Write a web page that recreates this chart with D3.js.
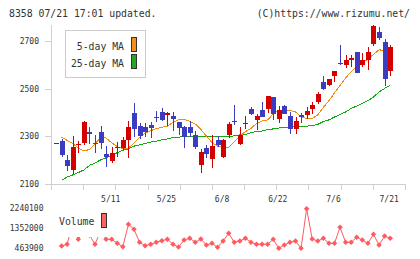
<!DOCTYPE html>
<html><head><meta charset="utf-8">
<script src="https://cdn.jsdelivr.net/npm/d3@7"></script>
<style>body{margin:0;background:#fff}svg{display:block}text{font-family:"DejaVu Sans Mono",monospace;fill:#333}</style>
</head><body><svg id="c" width="420" height="259"></svg>
<script>
const dates = ["4/21","4/22","4/23","4/24","4/27","4/28","4/30",
"5/1","5/7","5/8","5/11","5/12","5/13","5/14","5/15","5/18","5/19","5/20","5/21","5/22","5/25","5/26","5/27","5/28","5/29",
"6/1","6/2","6/3","6/4","6/5","6/8","6/9","6/10","6/11","6/12","6/15","6/16","6/17","6/18","6/19","6/22","6/23","6/24","6/25","6/26","6/29","6/30",
"7/1","7/2","7/3","7/6","7/7","7/8","7/9","7/10","7/13","7/14","7/15","7/16","7/17","7/21"];
const openP  = [2270,2282,2202,2159,2262,2272,2319,2274,2318,2226,2197,2249,2249,2285,2398,2343,2339,2348,2381,2402,2390,2385,2360,2339,2339,2306,2180,2251,2205,2285,2213,2306,2364,2268,2352,2415,2369,2410,2415,2465,2373,2427,2385,2331,2390,2390,2415,2444,2528,2515,2553,2608,2599,2620,2654,2599,2620,2687,2737,2696,2574];
const highP  = [2273,2289,2220,2301,2282,2364,2338,2305,2345,2259,2254,2276,2297,2364,2440,2357,2357,2359,2406,2419,2402,2402,2362,2343,2364,2322,2247,2264,2306,2301,2289,2361,2431,2339,2385,2423,2394,2444,2469,2467,2427,2433,2402,2380,2398,2423,2444,2486,2553,2541,2574,2683,2641,2641,2655,2651,2674,2767,2760,2708,2683];
const lowP   = [2269,2215,2156,2141,2231,2264,2269,2232,2248,2173,2189,2215,2243,2208,2298,2288,2298,2294,2360,2364,2343,2322,2306,2252,2298,2248,2147,2209,2167,2255,2209,2294,2348,2264,2331,2390,2327,2382,2398,2369,2356,2394,2311,2311,2356,2374,2394,2436,2494,2511,2528,2599,2588,2592,2565,2592,2578,2679,2704,2511,2553];
const closeP = [2272,2222,2177,2257,2266,2360,2311,2268,2271,2212,2231,2255,2285,2339,2331,2303,2318,2336,2379,2369,2398,2373,2335,2297,2314,2256,2234,2226,2259,2264,2285,2352,2360,2306,2356,2394,2385,2382,2469,2394,2410,2394,2331,2364,2381,2406,2431,2478,2499,2541,2574,2604,2620,2630,2566,2620,2654,2764,2713,2541,2675];
const ma5  = [null,2296,2283,2270,2251,2238,2245,2268,2295,2293,2273,2257,2247,2251,2271,2296,2313,2324,2332,2338,2343,2358,2369,2371,2363,2352,2329,2301,2274,2259,2254,2254,2276,2301,2320,2333,2354,2364,2369,2394,2409,2411,2409,2402,2383,2374,2375,2390,2421,2450,2482,2513,2545,2572,2593,2606,2625,2643,2663,2660,2654];
const ma25 = [null,2116,2129,2138,2148,2159,2178,2188,2201,2210,2218,2232,2241,2247,2259,2264,2270,2276,2280,2285,2289,2295,2297,2298,2298,2298,2298,2298,2298,2298,2298,2299,2302,2306,2307,2316,2320,2322,2329,2331,2335,2337,2339,2341,2343,2343,2345,2350,2362,2369,2381,2392,2402,2417,2427,2438,2450,2465,2486,2501,2514];
const volume = [null,567000,643300,1598700,867600,1300000,1060500,643300,1240000,867600,867600,688000,535700,1540400,1316100,733000,580500,643300,733000,804800,867600,643300,522200,836200,912400,733000,881000,611900,688000,508800,791300,1136700,733000,791300,912400,733000,643300,643300,643300,867600,463900,611900,733000,791300,463900,2240100,881000,791300,912400,688000,688000,1405900,733000,733000,957300,836200,688000,1091900,611900,1015600,912400];
const priceTicks = [2100,2300,2500,2700];
const volTicks = [463900,1352000,2240100];
const dateLabels = ["5/11","5/25","6/8","6/22","7/6","7/21"];
const seriesNames = ["5-day MA","25-day MA"];

const svg = d3.select("#c");
svg.append("rect").attr("width",420).attr("height",259).attr("fill","#fff");
const idx = d3.range(dates.length);
const x = d3.scaleLinear().domain([-0.9, 62.66]).range([51, 405]);
const y = d3.scaleLinear().domain([2100, 2700]).range([184, 41]);
const yv = d3.scaleLinear().domain([463900, 2240100]).range([248.3, 208.7]);
const grid = d3.scaleLinear().domain([0, 11]).range([51, 405]);
const AX = "#d0d0d0";

// header
svg.append("text").attr("x",9).attr("y",17).attr("font-size","9.8px").text("8358 07/21 17:01 updated.");
svg.append("text").attr("x",410).attr("y",17).attr("font-size","9.8px").attr("text-anchor","end").text("(C)https://www.rizumu.net/");

// axes frame
const fr = svg.append("g").attr("stroke",AX).attr("shape-rendering","crispEdges");
fr.append("line").attr("x1",51.5).attr("x2",51.5).attr("y1",25).attr("y2",190);
fr.append("line").attr("x1",51).attr("x2",405).attr("y1",184.5).attr("y2",184.5);
fr.selectAll(".gt").data(d3.range(12)).join("line")
  .attr("x1",d=>Math.round(grid(d))+0.5).attr("x2",d=>Math.round(grid(d))+0.5)
  .attr("y1",184).attr("y2",190);

const ya = svg.append("g").attr("transform","translate(51,0)")
  .call(d3.axisLeft(y).tickValues(priceTicks).tickSize(6).tickPadding(6).tickFormat(d3.format("d")));
ya.select(".domain").remove();
ya.selectAll("line").attr("stroke",AX).attr("shape-rendering","crispEdges");
ya.selectAll("text").attr("font-size","8px").attr("font-family","DejaVu Sans Mono").attr("fill","#333");

// x labels
svg.selectAll(".xl").data(dateLabels).join("text")
  .attr("x",d=>x(dates.indexOf(d))-1).attr("y",202).attr("font-size","8px").attr("text-anchor","middle").text(d=>d);

// moving averages
const line = (arr)=>d3.line().defined(i=>arr[i]!=null).x(i=>x(i)).y(i=>y(arr[i]))(idx);
svg.append("path").attr("d",line(ma25)).attr("fill","none").attr("stroke","#11aa11").attr("stroke-width",1).attr("shape-rendering","crispEdges");
svg.append("path").attr("d",line(ma5)).attr("fill","none").attr("stroke","#f08c10").attr("stroke-width",1).attr("shape-rendering","crispEdges");

// candles
const cg = svg.append("g").attr("shape-rendering","crispEdges");
const col = i => closeP[i] >= openP[i] ? "#d40000" : "#3c3cc0";
cg.selectAll(".w").data(idx).join("line")
  .attr("x1",i=>Math.round(x(i))+0.5).attr("x2",i=>Math.round(x(i))+0.5)
  .attr("y1",i=>Math.round(y(highP[i]))).attr("y2",i=>Math.round(y(lowP[i])))
  .attr("stroke",col);
cg.selectAll(".b").data(idx).join("rect")
  .attr("x",i=>Math.round(x(i))-2).attr("width",5)
  .attr("y",i=>Math.round(y(Math.max(openP[i],closeP[i]))))
  .attr("height",i=>Math.max(1,Math.round(y(Math.min(openP[i],closeP[i])))-Math.round(y(Math.max(openP[i],closeP[i])))))
  .attr("fill",col);

// legend
const lg = svg.append("g");
lg.append("rect").attr("x",65.5).attr("y",30.5).attr("width",80).attr("height",47).attr("fill","#fff").attr("stroke","#cccccc");
const swc = ["#f39019","#1faa1f"];
seriesNames.forEach((n,k)=>{
  lg.append("text").attr("x",124).attr("y",50+k*16.5).attr("font-size","9.8px").attr("text-anchor","end").text(n);
  lg.append("rect").attr("x",131.5).attr("y",37.5+k*17).attr("width",5).attr("height",14).attr("fill",swc[k]).attr("stroke","#333");
});

// volume
const vIdx = idx.filter(i=>volume[i]!=null);
svg.append("path").attr("d",d3.line().x(i=>x(i)).y(i=>yv(volume[i]))(vIdx))
  .attr("fill","none").attr("stroke","#ff5a5f").attr("stroke-width",1);
svg.selectAll(".vp").data(vIdx).join("path")
  .attr("d",d3.symbol(d3.symbolSquare,15))
  .attr("transform",i=>`translate(${x(i)},${yv(volume[i])}) rotate(45)`)
  .attr("fill","#ff5a5f");
svg.append("rect").attr("x",55).attr("y",205).attr("width",56).attr("height",32).attr("fill","#fff");
svg.append("text").attr("x",59).attr("y",225).attr("font-size","9.8px").text("Volume");
svg.append("rect").attr("x",101.5).attr("y",213.5).attr("width",5).attr("height",14).attr("fill","#ff6262").attr("stroke","#333");
svg.selectAll(".vl").data(volTicks).join("text")
  .attr("x",43.5).attr("y",d=>yv(d)).attr("dy","0.32em").attr("font-size","8px").attr("text-anchor","end").text(d=>d);
</script></body></html>
